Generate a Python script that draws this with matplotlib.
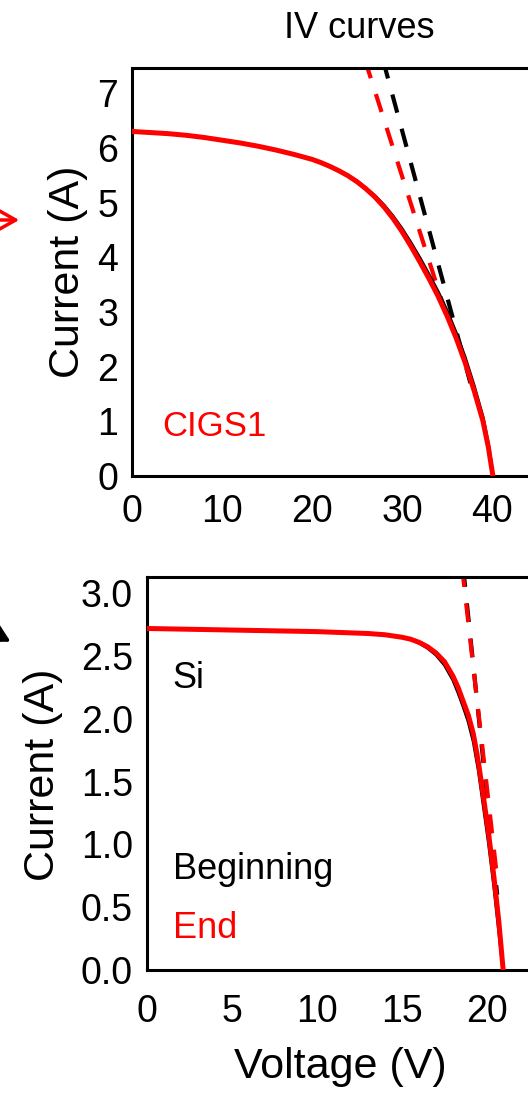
import matplotlib
matplotlib.use("Agg")
import matplotlib.pyplot as plt

plt.rcParams['font.family'] = ['Liberation Sans', 'DejaVu Sans']

# ---------------- data ----------------
title_text = "IV curves"
ylabel_text = "Current (A)"
xlabel_text = "Voltage (V)"

# CIGS1 module (top panel)
cigs_V = [0, 2, 4, 6, 8, 10, 12, 14, 16, 18, 20, 21, 22, 23, 24, 25, 26, 27,
          28, 29, 30, 31, 32, 33, 34, 35, 36, 37, 38, 39, 39.6, 40.1]
cigs_I_end = [6.30, 6.28, 6.26, 6.23, 6.19, 6.14, 6.09, 6.03, 5.96, 5.88, 5.79,
              5.73, 5.66, 5.58, 5.49, 5.38, 5.25, 5.10, 4.92, 4.71, 4.47, 4.20,
              3.91, 3.61, 3.29, 2.93, 2.53, 2.08, 1.57, 1.00, 0.52, 0.0]
cigs_I_beg = [6.30, 6.28, 6.26, 6.23, 6.19, 6.14, 6.09, 6.03, 5.96, 5.88, 5.79,
              5.73, 5.66, 5.58, 5.49, 5.39, 5.26, 5.12, 4.95, 4.75, 4.52, 4.26,
              3.98, 3.68, 3.37, 3.02, 2.62, 2.17, 1.65, 1.07, 0.57, 0.0]
cigs_tan_beg_V = [27.9, 37.6]
cigs_tan_beg_I = [7.60, 1.70]
cigs_tan_end_V = [25.9, 35.4]
cigs_tan_end_I = [7.60, 2.70]

# Si module (bottom panel)
si_V = [0, 2, 4, 6, 8, 10, 12, 13, 14, 15, 15.5, 16, 16.5, 17, 17.5, 18,
        18.3, 18.6, 18.9, 19.2, 19.5, 19.8, 20.1, 20.4, 20.7, 20.95]
si_I_end = [2.72, 2.715, 2.71, 2.705, 2.70, 2.695, 2.685, 2.68, 2.67, 2.65,
            2.635, 2.61, 2.575, 2.525, 2.455, 2.34, 2.25, 2.14, 2.03, 1.88,
            1.65, 1.37, 1.08, 0.75, 0.38, 0.0]
si_I_beg = [2.72, 2.715, 2.71, 2.705, 2.70, 2.695, 2.685, 2.68, 2.67, 2.65,
            2.635, 2.605, 2.565, 2.51, 2.43, 2.31, 2.21, 2.10, 1.98, 1.82,
            1.59, 1.30, 1.01, 0.68, 0.31, 0.0]
si_tan_beg_V = [18.60, 20.60]
si_tan_beg_I = [3.20, 0.60]
si_tan_end_V = [18.54, 20.54]
si_tan_end_I = [3.20, 0.80]

cigs_xticks = [0, 10, 20, 30, 40]
cigs_yticks = [0, 1, 2, 3, 4, 5, 6, 7]
si_xticks = [0, 5, 10, 15, 20]
si_yticks = [0.0, 0.5, 1.0, 1.5, 2.0, 2.5, 3.0]

# ---------------- figure ----------------
W, H = 528, 1094
fig = plt.figure(figsize=(W / 100, H / 100), dpi=100)

def px_axes(left, top, right, bottom):
    return [left / W, 1 - bottom / H, (right - left) / W, (bottom - top) / H]

RED = '#ff0000'
TICK_FS = 27
LAB_FS = 31

def style(ax, ypad, xpad):
    for s in ax.spines.values():
        s.set_linewidth(2.2)
    ax.tick_params(length=0, labelsize=TICK_FS)
    ax.tick_params(axis='y', pad=ypad)
    ax.tick_params(axis='x', pad=xpad)

# top panel
ax1 = fig.add_axes(px_axes(132, 68, 132 + 45 * 9.0, 476))
ax1.plot(cigs_V, cigs_I_beg, color='black', lw=2.4, zorder=3)
ax1.plot(cigs_V, cigs_I_end, color=RED, lw=3.6, zorder=4)
ax1.plot(cigs_tan_beg_V, cigs_tan_beg_I, color='black', lw=3, dashes=(4.5, 4), zorder=2)
ax1.plot(cigs_tan_end_V, cigs_tan_end_I, color=RED, lw=3, dashes=(4.5, 4), zorder=2)
ax1.set_xlim(0, 45)
ax1.set_ylim(0, 7.46)
ax1.set_xticks(cigs_xticks)
ax1.set_yticks(cigs_yticks)
style(ax1, 10, 13)
ax1.set_ylabel(ylabel_text, fontsize=LAB_FS)
ax1.yaxis.set_label_coords(-0.109, 0.5)
ax1.text(3.4, 0.9, "CIGS1", color=RED, fontsize=25, va='center', ha='left')

# bottom panel
ax2 = fig.add_axes(px_axes(147, 577, 147 + 24 * 17.0, 970))
ax2.plot(si_tan_beg_V, si_tan_beg_I, color='black', lw=3, dashes=(4.5, 4), zorder=2)
ax2.plot(si_tan_end_V, si_tan_end_I, color=RED, lw=3, dashes=(4.5, 4), zorder=2)
ax2.plot(si_V, si_I_beg, color='black', lw=2.4, zorder=3)
ax2.plot(si_V, si_I_end, color=RED, lw=3.6, zorder=4)
ax2.set_xlim(0, 24)
ax2.set_ylim(0, 3.13)
ax2.set_xticks(si_xticks)
ax2.set_yticks(si_yticks)
ax2.set_yticklabels([f"{v:.1f}" for v in si_yticks])
style(ax2, 10, 17)
ax2.set_ylabel(ylabel_text, fontsize=LAB_FS)
ax2.yaxis.set_label_coords(-0.205, 0.496)
ax2.set_xlabel(xlabel_text, fontsize=LAB_FS)
ax2.xaxis.set_label_coords(0.473, -0.196)
ax2.text(1.5, 2.32, "Si", color='black', fontsize=26, va='center', ha='left')
ax2.text(1.5, 0.80, "Beginning", color='black', fontsize=26, va='center', ha='left')
ax2.text(1.5, 0.33, "End", color=RED, fontsize=26, va='center', ha='left')

# title
fig.text(359 / W, 1 - 28 / H, title_text, fontsize=26, ha='center', va='center')

# cropped arrows from neighbouring panels
fig.add_artist(matplotlib.patches.FancyArrowPatch(
    (-20, H - 220), (22, H - 220), transform=None,
    arrowstyle='->,head_length=0.8,head_width=0.45', mutation_scale=28,
    color=RED, lw=2.5))
fig.add_artist(matplotlib.patches.FancyArrowPatch(
    (-30, H - 620), (13, H - 643), transform=None,
    arrowstyle='-|>,head_length=0.9,head_width=0.5', mutation_scale=28,
    color='black', lw=2.5))

fig.savefig("out.png", dpi=100)
